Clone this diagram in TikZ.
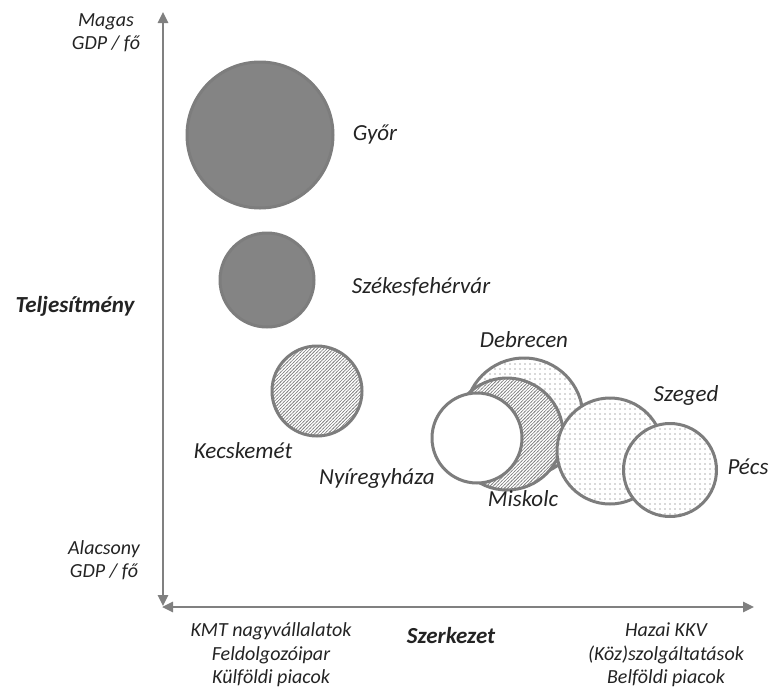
\documentclass[tikz,border=0pt]{standalone}
\usepackage{fontspec}
\setmainfont{Carlito}
\usetikzlibrary{patterns,arrows.meta}
\definecolor{axisgray}{RGB}{128,128,128}
\definecolor{edgegray}{RGB}{125,125,125}
\definecolor{darkfill}{RGB}{132,132,132}
\definecolor{dotgray}{RGB}{95,95,95}
\definecolor{txt}{RGB}{35,35,35}
\pgfdeclarepatternformonly{sparsedots}{\pgfpoint{-1pt}{-1pt}}{\pgfpoint{1pt}{1pt}}{\pgfpoint{5pt}{5pt}}{%
  \pgfpathcircle{\pgfpointorigin}{0.6pt}\pgfusepath{fill}}
\pgfdeclarepatternformonly{hatchlines}{\pgfpoint{-1pt}{-1pt}}{\pgfpoint{4pt}{4pt}}{\pgfpoint{3.3pt}{3.3pt}}{%
  \pgfsetlinewidth{0.6pt}\pgfpathmoveto{\pgfpoint{-0.5pt}{-0.5pt}}\pgfpathlineto{\pgfpoint{3.8pt}{3.8pt}}\pgfusepath{stroke}}
\tikzset{
  bubble/.style={circle, draw=edgegray, line width=3pt, inner sep=0pt},
  darkb/.style={bubble, fill=darkfill},
  hatchb/.style={bubble, preaction={fill=white}, pattern=hatchlines, pattern color=gray},
  dotb/.style={bubble, preaction={fill=white}, pattern=sparsedots, pattern color=dotgray},
  whiteb/.style={bubble, fill=white},
  city/.style={font=\fontsize{23}{27}\selectfont\itshape, text=txt, inner sep=0pt},
  axlab/.style={font=\fontsize{20}{23.5}\selectfont\itshape, text=txt, align=center, inner sep=0pt},
  axtitle/.style={font=\fontsize{23}{27}\selectfont\bfseries\itshape, text=txt, inner sep=0pt},
  axis/.style={draw=axisgray, line width=2.5pt, {Triangle[length=11pt,width=10pt]}-{Triangle[length=11pt,width=10pt]}}
}
\begin{document}
\begin{tikzpicture}[x=1pt,y=-1pt]
\useasboundingbox (0,0) rectangle (774,689);
% axes
\coordinate (ytop) at (163,12);
\coordinate (ybot) at (163,606);
\coordinate (xleft) at (162,607);
\coordinate (xright) at (754,607);
\draw[axis] (ybot) -- (ytop);
\draw[axis] (xleft) -- (xright);
% bubbles
\node[darkb, minimum size=146pt] (gyor) at (260,135) {};
\node[darkb, minimum size=94pt] (szfv) at (267,280) {};
\node[hatchb, minimum size=90pt] (kecs) at (317,391) {};
\node[dotb, minimum size=118pt] (debr) at (524,417) {};
\node[hatchb, minimum size=112pt] (misk) at (507,434) {};
\node[whiteb, minimum size=90pt] (nyir) at (477,438) {};
\node[dotb, minimum size=106pt] (szeg) at (610,451) {};
\node[dotb, minimum size=93pt] (pecs) at (670,470) {};
% city labels
\node[city] (lgyor) at (375,135) {Győr};
\node[city] (lszfv) at (421,287) {Székesfehérvár};
\node[city] (lkecs) at (243,451) {Kecskemét};
\node[city] (lnyir) at (377,478) {Nyíregyháza};
\node[city] (ldebr) at (524,340) {Debrecen};
\node[city] (lszeg) at (686,395) {Szeged};
\node[city] (lpecs) at (748,467) {Pécs};
\node[city] (lmisk) at (523,499) {Miskolc};
% axis labels
\node[axlab] (magas) at (106,33) {Magas\\GDP / fő};
\node[axlab] (alacs) at (104,560) {Alacsony\\GDP / fő};
\node[axtitle] (telj) at (75,306) {Teljesítmény};
\node[axtitle] (szerk) at (451,636) {Szerkezet};
\node[axlab] (kmt) at (271,655) {KMT nagyvállalatok\\Feldolgozóipar\\Külföldi piacok};
\node[axlab] (hazai) at (666,655) {Hazai KKV\\(Köz)szolgáltatások\\Belföldi piacok};
\end{tikzpicture}
\end{document}
